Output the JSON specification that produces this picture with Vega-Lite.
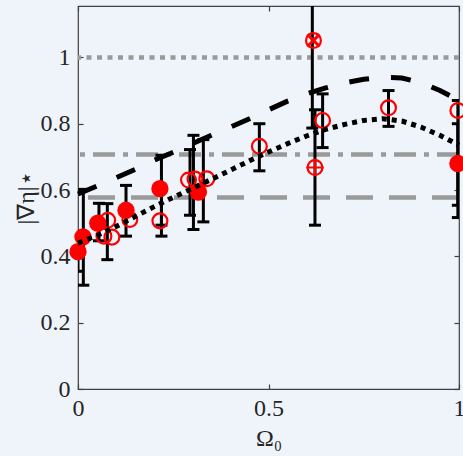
{
  "$schema": "https://vega.github.io/schema/vega-lite/v6.json",
  "width": 381,
  "height": 383,
  "autosize": {"type": "none"},
  "padding": {"left": 78, "top": 6, "right": 4, "bottom": 67},
  "background": "#eff3fa",
  "config": {
    "view": {"stroke": "#404040", "strokeWidth": 1.2, "fill": "#eff3fa"},
    "axis": {
      "domain": false,
      "grid": false,
      "tickColor": "#404040",
      "tickWidth": 1.2,
      "tickSize": -5,
      "labelFlush": false,
      "labelOverlap": false,
      "labelFont": "Liberation Serif",
      "labelFontSize": 24,
      "labelColor": "#262626",
      "titleFont": "Liberation Serif",
      "titleFontSize": 24,
      "titleFontWeight": "normal",
      "titleColor": "#262626"
    }
  },
  "resolve": {"axis": {"x": "independent", "y": "independent"}},
  "datasets": {
    "refs": [
      {"r": 1.0, "kind": "dotted"},
      {"r": 0.7071, "kind": "dashdot"},
      {"r": 0.5774, "kind": "dashed"}
    ],
    "dashcurve": [
      {"o": 0.0, "v": 0.588}, {"o": 0.05, "v": 0.612}, {"o": 0.1, "v": 0.637}, {"o": 0.15, "v": 0.662},
      {"o": 0.2, "v": 0.69}, {"o": 0.25, "v": 0.714}, {"o": 0.3, "v": 0.74}, {"o": 0.35, "v": 0.765},
      {"o": 0.4, "v": 0.79}, {"o": 0.45, "v": 0.815}, {"o": 0.5, "v": 0.842}, {"o": 0.55, "v": 0.868},
      {"o": 0.6, "v": 0.89}, {"o": 0.65, "v": 0.908}, {"o": 0.7, "v": 0.923}, {"o": 0.75, "v": 0.934},
      {"o": 0.8, "v": 0.94}, {"o": 0.85, "v": 0.938}, {"o": 0.9, "v": 0.924}, {"o": 0.95, "v": 0.9},
      {"o": 1.0, "v": 0.87}
    ],
    "dotcurve": [
      {"o": 0.0, "v": 0.44}, {"o": 0.05, "v": 0.463}, {"o": 0.1, "v": 0.49}, {"o": 0.15, "v": 0.52},
      {"o": 0.2, "v": 0.55}, {"o": 0.25, "v": 0.578}, {"o": 0.3, "v": 0.605}, {"o": 0.35, "v": 0.632},
      {"o": 0.4, "v": 0.66}, {"o": 0.45, "v": 0.688}, {"o": 0.5, "v": 0.715}, {"o": 0.55, "v": 0.74},
      {"o": 0.6, "v": 0.763}, {"o": 0.65, "v": 0.783}, {"o": 0.7, "v": 0.798}, {"o": 0.75, "v": 0.81},
      {"o": 0.8, "v": 0.815}, {"o": 0.85, "v": 0.808}, {"o": 0.9, "v": 0.79}, {"o": 0.95, "v": 0.765},
      {"o": 1.0, "v": 0.735}
    ],
    "bars": [
      {"o": 0.0, "lo": 0.355, "hi": 0.476},
      {"o": 0.014, "lo": 0.313, "hi": 0.602},
      {"o": 0.055, "lo": 0.447, "hi": 0.56},
      {"o": 0.077, "lo": 0.39, "hi": 0.559},
      {"o": 0.126, "lo": 0.461, "hi": 0.614},
      {"o": 0.219, "lo": 0.461, "hi": 0.705},
      {"o": 0.219, "lo": 0.494, "hi": 0.6},
      {"o": 0.294, "lo": 0.524, "hi": 0.722},
      {"o": 0.303, "lo": 0.481, "hi": 0.765},
      {"o": 0.329, "lo": 0.504, "hi": 0.752},
      {"o": 0.476, "lo": 0.658, "hi": 0.8},
      {"o": 0.615, "lo": 0.787, "hi": 1.3},
      {"o": 0.622, "lo": 0.494, "hi": 0.842},
      {"o": 0.642, "lo": 0.728, "hi": 0.89},
      {"o": 0.815, "lo": 0.792, "hi": 0.9},
      {"o": 0.997, "lo": 0.517, "hi": 0.87},
      {"o": 0.997, "lo": 0.554, "hi": 0.8}
    ],
    "points": [
      {"o": 0.0, "v": 0.414, "kind": "filled"},
      {"o": 0.013, "v": 0.459, "kind": "filled"},
      {"o": 0.052, "v": 0.5, "kind": "filled"},
      {"o": 0.078, "v": 0.509, "kind": "open"},
      {"o": 0.068, "v": 0.461, "kind": "open"},
      {"o": 0.089, "v": 0.458, "kind": "open"},
      {"o": 0.126, "v": 0.539, "kind": "filled"},
      {"o": 0.136, "v": 0.511, "kind": "open"},
      {"o": 0.215, "v": 0.604, "kind": "filled"},
      {"o": 0.215, "v": 0.507, "kind": "open"},
      {"o": 0.29, "v": 0.63, "kind": "open"},
      {"o": 0.307, "v": 0.633, "kind": "open"},
      {"o": 0.316, "v": 0.594, "kind": "filled"},
      {"o": 0.338, "v": 0.634, "kind": "open"},
      {"o": 0.476, "v": 0.732, "kind": "open"},
      {"o": 0.618, "v": 1.051, "kind": "openx"},
      {"o": 0.622, "v": 0.668, "kind": "openplus"},
      {"o": 0.642, "v": 0.81, "kind": "open"},
      {"o": 0.815, "v": 0.848, "kind": "open"},
      {"o": 0.997, "v": 0.84, "kind": "open"},
      {"o": 0.997, "v": 0.68, "kind": "filled"}
    ]
  },
  "layer": [
    {
      "data": {"name": "refs"},
      "transform": [{"filter": "datum.kind === 'dotted'"}],
      "mark": {"type": "rule", "color": "#9a9a9a", "strokeWidth": 4.5, "strokeDash": [5, 5.5]},
      "encoding": {
        "y": {"field": "r", "type": "quantitative", "scale": {"domain": [0, 1.155], "nice": false, "zero": false},
          "axis": {"values": [0, 0.2, 0.4, 0.6, 0.8, 1], "format": "~g", "labelPadding": 13, "title": "|∇η|⋆", "titlePadding": 2}}
      }
    },
    {
      "data": {"name": "refs"},
      "transform": [{"filter": "datum.kind === 'dashdot'"}],
      "mark": {"type": "rule", "color": "#9a9a9a", "strokeWidth": 4.5, "strokeDash": [22, 8, 5, 8]},
      "encoding": {
        "y": {"field": "r", "type": "quantitative", "axis": {"orient": "right", "values": [0, 0.2, 0.4, 0.6, 0.8, 1], "labels": false, "title": null}}
      }
    },
    {
      "data": {"name": "refs"},
      "transform": [{"filter": "datum.kind === 'dashed'"}],
      "mark": {"type": "rule", "color": "#9a9a9a", "strokeWidth": 4.5, "strokeDash": [27, 16]},
      "encoding": {
        "y": {"field": "r", "type": "quantitative", "axis": null}
      }
    },
    {
      "data": {"name": "bars"},
      "mark": {"type": "rule", "color": "#000000", "strokeWidth": 3, "clip": true},
      "encoding": {
        "x": {"field": "o", "type": "quantitative", "scale": {"domain": [0, 1], "nice": false, "zero": false},
          "axis": {"values": [0, 0.5, 1], "format": "~g", "labelPadding": 12, "title": "Ω₀", "titlePadding": 6}},
        "y": {"field": "lo", "type": "quantitative", "axis": null},
        "y2": {"field": "hi"}
      }
    },
    {
      "data": {"name": "bars"},
      "mark": {"type": "tick", "color": "#000000", "orient": "horizontal", "size": 12, "thickness": 3, "opacity": 1, "clip": true},
      "encoding": {
        "x": {"field": "o", "type": "quantitative", "axis": {"orient": "top", "values": [0, 0.5, 1], "labels": false, "title": null}},
        "y": {"field": "lo", "type": "quantitative", "axis": null}
      }
    },
    {
      "data": {"name": "bars"},
      "mark": {"type": "tick", "color": "#000000", "orient": "horizontal", "size": 12, "thickness": 3, "opacity": 1, "clip": true},
      "encoding": {
        "x": {"field": "o", "type": "quantitative", "axis": null},
        "y": {"field": "hi", "type": "quantitative", "axis": null}
      }
    },
    {
      "data": {"name": "points"},
      "transform": [{"filter": "datum.kind === 'filled'"}],
      "mark": {"type": "point", "shape": "circle", "filled": true, "color": "#ff0000", "size": 300, "opacity": 1, "strokeWidth": 0},
      "encoding": {
        "x": {"field": "o", "type": "quantitative", "axis": null},
        "y": {"field": "v", "type": "quantitative", "axis": null}
      }
    },
    {
      "data": {"name": "points"},
      "transform": [{"filter": "datum.kind !== 'filled'"}],
      "mark": {"type": "point", "shape": "circle", "filled": false, "color": "#ff0000", "size": 220, "opacity": 1, "strokeWidth": 2.2},
      "encoding": {
        "x": {"field": "o", "type": "quantitative", "axis": null},
        "y": {"field": "v", "type": "quantitative", "axis": null}
      }
    },
    {
      "data": {"name": "points"},
      "transform": [{"filter": "datum.kind === 'openplus'"}],
      "mark": {"type": "point", "shape": "M-1,0L1,0M0,-1L0,1", "filled": false, "color": "#ff0000", "size": 300, "opacity": 1, "strokeWidth": 2.2},
      "encoding": {
        "x": {"field": "o", "type": "quantitative", "axis": null},
        "y": {"field": "v", "type": "quantitative", "axis": null}
      }
    },
    {
      "data": {"name": "points"},
      "transform": [{"filter": "datum.kind === 'openx'"}],
      "mark": {"type": "point", "shape": "M-0.7,-0.7L0.7,0.7M-0.7,0.7L0.7,-0.7", "filled": false, "color": "#ff0000", "size": 300, "opacity": 1, "strokeWidth": 3},
      "encoding": {
        "x": {"field": "o", "type": "quantitative", "axis": null},
        "y": {"field": "v", "type": "quantitative", "axis": null}
      }
    },
    {
      "data": {"name": "dashcurve"},
      "mark": {"type": "line", "color": "#000000", "strokeWidth": 5, "strokeDash": [20, 22], "strokeCap": "butt"},
      "encoding": {
        "x": {"field": "o", "type": "quantitative", "axis": null},
        "y": {"field": "v", "type": "quantitative", "axis": null}
      }
    },
    {
      "data": {"name": "dotcurve"},
      "mark": {"type": "line", "color": "#000000", "strokeWidth": 5, "strokeDash": [5, 5], "strokeCap": "butt"},
      "encoding": {
        "x": {"field": "o", "type": "quantitative", "axis": null},
        "y": {"field": "v", "type": "quantitative", "axis": null}
      }
    }
  ]
}
